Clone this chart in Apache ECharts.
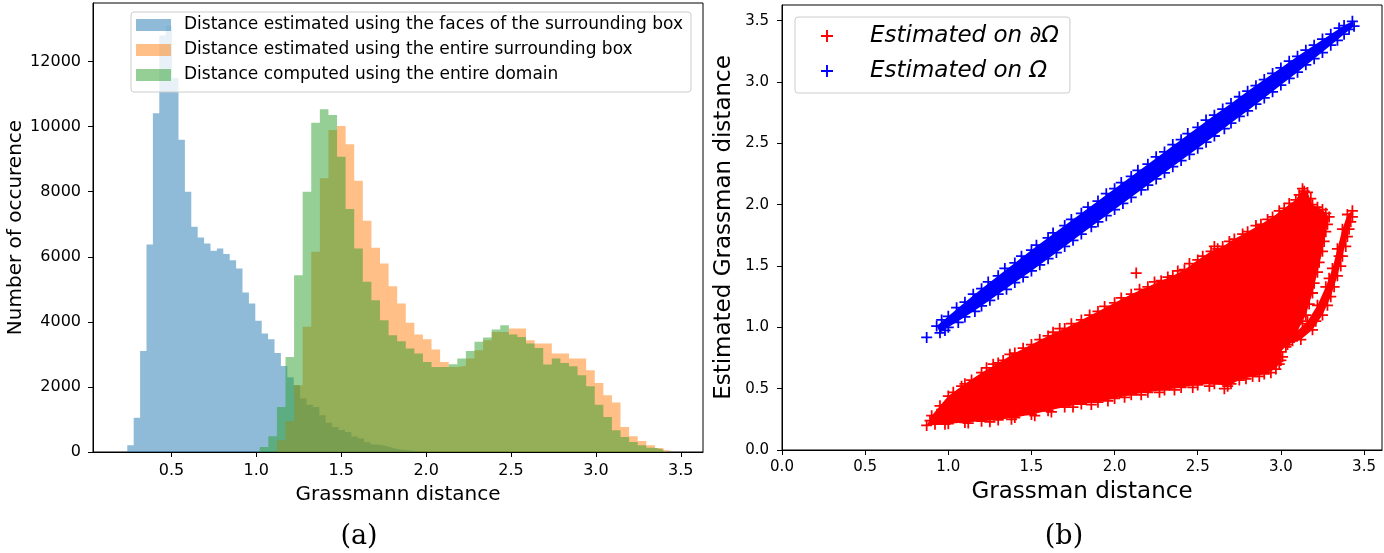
<!DOCTYPE html>
<html><head><meta charset="utf-8">
<script src="https://cdn.jsdelivr.net/npm/echarts@6/dist/echarts.min.js"></script>
<style>html,body{margin:0;padding:0;background:#fff}#c{width:1384px;height:553px}</style>
</head><body><div id="c"></div>
<script>
// ---------- Panel (a): histogram counts ----------
var blueName = 'Distance estimated using the faces of the surrounding box';
var orangeName = 'Distance estimated using the entire surrounding box';
var greenName = 'Distance computed using the entire domain';
var blueStart = 0.240, blueWidth = 0.0377;
var blueCounts = [205,1056,3108,6380,10410,12800,13100,11500,9600,8000,6923,6595,6410,6185,6256,6082,5897,5641,4902,4564,4031,3641,3467,3046,2646,2300,2052,1641,1450,1385,1129,900,769,680,615,480,412,300,230,206,150,103,70,52,30,15];
var ogStart = 1.020, ogWidth = 0.0506;
var orangeCounts = [0,0,360,954,2051,3850,6154,8410,9897,10020,9456,8338,7108,6277,5795,5097,4564,3969,3610,3467,3149,2769,2615,2650,2872,3130,3436,3692,3692,3795,3795,3436,3333,3333,3026,3026,2872,2872,2513,2123,1744,1518,769,482,338,205,123,51];
var greenCounts = [154,483,1385,2923,5436,8000,10123,10533,10359,9077,7466,6256,5231,4667,4051,3590,3405,3180,3026,2769,2615,2615,2700,2872,3108,3385,3518,3764,3897,3610,3538,3333,3200,2687,2872,2738,2636,2359,2020,1456,1077,667,461,308,205,133,72,0];
var xTicksA = [0.5,1.0,1.5,2.0,2.5,3.0,3.5];
var yTicksA = [0,2000,4000,6000,8000,10000,12000];

// ---------- Panel (b): scatter clouds (outline + edge points) ----------
var redName = 'Estimated on \u2202\u03A9';
var blueSName = 'Estimated on \u03A9';
var redOutline = [[0.87,0.20],[0.92,0.21],[1.00,0.215],[1.10,0.225],[1.20,0.235],[1.30,0.245],[1.40,0.265],[1.50,0.29],[1.60,0.32],[1.70,0.35],[1.80,0.375],[1.90,0.39],[2.00,0.42],[2.10,0.45],[2.20,0.47],[2.30,0.49],[2.40,0.51],[2.50,0.53],[2.60,0.54],[2.68,0.52],[2.75,0.57],[2.83,0.60],[2.90,0.62],[2.97,0.66],[3.00,0.73],[3.00,0.80],[3.05,0.88],[3.10,0.97],[3.15,1.10],[3.19,1.28],[3.22,1.45],[3.25,1.62],[3.27,1.78],[3.29,1.90],[3.25,1.96],[3.19,2.00],[3.16,2.10],[3.13,2.13],[3.09,2.04],[3.02,1.97],[2.95,1.90],[2.88,1.84],[2.80,1.78],[2.72,1.72],[2.65,1.66],[2.58,1.62],[2.50,1.55],[2.42,1.47],[2.35,1.42],[2.28,1.38],[2.20,1.33],[2.10,1.27],[2.00,1.20],[1.90,1.13],[1.80,1.06],[1.70,0.99],[1.60,0.93],[1.50,0.86],[1.40,0.79],[1.30,0.71],[1.20,0.63],[1.10,0.54],[1.00,0.44],[0.95,0.36],[0.90,0.28]];
var redHook = [[3.04,0.86],[3.12,0.90],[3.19,0.98],[3.25,1.10],[3.30,1.25],[3.34,1.42],[3.37,1.58],[3.40,1.74],[3.42,1.86],[3.43,1.95],[3.40,1.92],[3.37,1.80],[3.34,1.64],[3.31,1.48],[3.27,1.33],[3.22,1.18],[3.16,1.05],[3.09,0.96]];
var redEdge = [[0.89,0.24],[0.96,0.33],[1.03,0.47],[1.08,0.52],[1.14,0.57],[1.23,0.67],[1.27,0.70],[1.33,0.73],[1.37,0.78],[1.45,0.83],[1.55,0.90],[1.63,0.96],[1.67,0.99],[1.74,1.03],[1.85,1.10],[1.94,1.17],[2.04,1.24],[2.13,1.443],[2.15,1.31],[2.24,1.37],[2.32,1.41],[2.38,1.46],[2.45,1.52],[2.53,1.58],[2.60,1.66],[2.62,1.64],[2.69,1.70],[2.77,1.76],[2.85,1.83],[2.92,1.88],[2.99,1.95],[3.05,2.01],[3.11,2.08],[3.14,2.11],[3.18,2.05],[3.22,1.98],[3.27,1.93],[0.98,0.21],[1.12,0.22],[1.25,0.23],[1.38,0.25],[1.52,0.28],[1.62,0.31],[1.75,0.35],[1.86,0.37],[1.96,0.40],[2.06,0.43],[2.16,0.45],[2.27,0.47],[2.36,0.49],[2.47,0.51],[2.57,0.52],[2.66,0.50],[2.70,0.54],[2.79,0.58],[2.87,0.60],[2.94,0.63],[2.99,0.70],[3.01,0.76],[2.95,0.72],[2.88,0.66],[3.03,0.84],[3.08,0.92],[3.13,1.03],[3.17,1.19],[3.20,1.36],[3.23,1.53],[3.26,1.70],[3.28,1.84],[3.07,0.89],[3.21,1.05],[3.28,1.18],[3.32,1.33],[3.36,1.50],[3.39,1.66],[3.41,1.80],[3.43,1.90],[3.35,1.58],[3.29,1.40]];
var blueUpper = [[0.93,1.01],[1.00,1.09],[1.10,1.205],[1.20,1.315],[1.30,1.42],[1.40,1.525],[1.50,1.63],[1.60,1.73],[1.70,1.83],[1.80,1.93],[1.90,2.03],[2.00,2.13],[2.10,2.23],[2.20,2.33],[2.30,2.43],[2.40,2.53],[2.50,2.63],[2.60,2.73],[2.70,2.825],[2.80,2.925],[2.90,3.02],[3.00,3.115],[3.10,3.21],[3.20,3.30],[3.30,3.39],[3.38,3.46],[3.43,3.495]];
var blueLower = [[3.44,3.455],[3.38,3.39],[3.30,3.30],[3.20,3.19],[3.10,3.08],[3.00,2.975],[2.90,2.87],[2.80,2.765],[2.70,2.665],[2.60,2.56],[2.50,2.46],[2.40,2.36],[2.30,2.26],[2.20,2.16],[2.10,2.06],[2.00,1.96],[1.90,1.86],[1.80,1.76],[1.70,1.66],[1.60,1.56],[1.50,1.46],[1.40,1.365],[1.30,1.27],[1.20,1.175],[1.10,1.085],[1.00,1.00],[0.95,0.955]];
var blueEdge = [[0.87,0.918],[0.96,1.06],[1.05,1.16],[1.15,1.27],[1.24,1.37],[1.34,1.48],[1.44,1.58],[1.53,1.67],[1.63,1.77],[1.74,1.88],[1.84,1.98],[1.95,2.09],[2.04,2.18],[2.14,2.28],[2.25,2.39],[2.35,2.49],[2.44,2.58],[2.55,2.69],[2.65,2.78],[2.75,2.88],[2.85,2.97],[2.95,3.07],[3.05,3.17],[3.15,3.26],[3.25,3.35],[3.35,3.44],[0.98,0.975],[1.06,1.04],[1.16,1.13],[1.25,1.22],[1.35,1.31],[1.45,1.41],[1.55,1.51],[1.65,1.61],[1.75,1.71],[1.86,1.82],[1.95,1.91],[2.05,2.01],[2.16,2.12],[2.25,2.21],[2.35,2.31],[2.45,2.41],[2.55,2.51],[2.66,2.62],[2.75,2.72],[2.85,2.82],[2.95,2.92],[3.05,3.03],[3.15,3.14],[3.25,3.24],[3.34,3.34],[3.41,3.43]];
var ticksB = [0.0,0.5,1.0,1.5,2.0,2.5,3.0,3.5];

// ---------- build ----------
function stepData(start, width, counts){
  var d = [[start, 0]];
  for (var i = 0; i < counts.length; i++) d.push([start + i*width, counts[i]]);
  d.push([start + counts.length*width, counts[counts.length-1]]);
  d.push([start + counts.length*width, 0]);
  return d;
}
function histSeries(name, color, data){
  return {type:'line', name:name, xAxisIndex:0, yAxisIndex:0, step:'end', data:data,
    symbol:'none', showSymbol:false, silent:true,
    itemStyle:{color:color}, lineStyle:{width:0, color:color}, areaStyle:{color:color, opacity:1}};
}
function polySeries(name, pts, color){
  return {type:'custom', name:name, xAxisIndex:1, yAxisIndex:1, data:[[0,0]], silent:true, z:2,
    renderItem:function(params, api){
      var p = pts.map(function(q){ return api.coord(q); });
      return {type:'polygon', shape:{points:p}, style:{fill:color}};
    }};
}
var plus = 'path://M4.2,0H5.8V4.2H10V5.8H5.8V10H4.2V5.8H0V4.2H4.2Z';
function scatSeries(name, data, color){
  return {type:'scatter', name:name, xAxisIndex:1, yAxisIndex:1, data:data, symbol:plus, symbolSize:11,
    silent:true, z:3, itemStyle:{color:color, opacity:1}};
}
var f1 = function(v){ return v.toFixed(1); };
var f0 = function(v){ return String(Math.round(v)); };
var axisCommon = {axisLine:{show:true, onZero:false, lineStyle:{color:'#000', width:1}}, splitLine:{show:false}};

var chart = echarts.init(document.getElementById('c'), null, {renderer:'canvas'});
chart.setOption({
  animation:false,
  textStyle:{fontFamily:'DejaVu Sans', color:'#000'},
  grid:[
    {left:93, top:3, width:610, height:449, show:true, borderColor:'#000', borderWidth:1, backgroundColor:'transparent'},
    {left:782, top:5, width:600, height:445, show:true, borderColor:'#000', borderWidth:1, backgroundColor:'transparent'}
  ],
  xAxis:[
    Object.assign({type:'value', gridIndex:0, min:0.038, max:3.631,
      axisTick:{show:true, length:5, customValues:xTicksA, lineStyle:{color:'#000'}},
      axisLabel:{customValues:xTicksA, formatter:f1, fontSize:16, color:'#000', margin:11},
      name:'Grassmann distance', nameLocation:'middle', nameGap:33, nameTextStyle:{fontSize:20, color:'#000'}}, axisCommon),
    Object.assign({type:'value', gridIndex:1, min:0, max:3.608,
      axisTick:{show:true, length:5, customValues:ticksB, lineStyle:{color:'#000'}},
      axisLabel:{customValues:ticksB, formatter:f1, fontSize:15, color:'#000', margin:10},
      name:'Grassman distance', nameLocation:'middle', nameGap:31, nameTextStyle:{fontSize:23, color:'#000'}}, axisCommon)
  ],
  yAxis:[
    Object.assign({type:'value', gridIndex:0, min:0, max:13800,
      axisTick:{show:true, length:5, customValues:yTicksA, lineStyle:{color:'#000'}},
      axisLabel:{customValues:yTicksA, formatter:f0, fontSize:16, color:'#000', margin:12},
      name:'Number of occurence', nameLocation:'middle', nameGap:67, nameTextStyle:{fontSize:20, color:'#000'}}, axisCommon),
    Object.assign({type:'value', gridIndex:1, min:0, max:3.628,
      axisTick:{show:true, length:5, customValues:ticksB, lineStyle:{color:'#000'}},
      axisLabel:{customValues:ticksB, formatter:f1, fontSize:15, color:'#000', margin:13},
      name:'Estimated Grassman distance', nameLocation:'middle', nameGap:46, nameTextStyle:{fontSize:23, color:'#000'}}, axisCommon)
  ],
  legend:[
    {left:131, top:12, orient:'vertical', icon:'rect', itemWidth:35, itemHeight:12, itemGap:5,
      padding:[3,8,7,5], backgroundColor:'rgba(255,255,255,0.8)', borderColor:'#cccccc', borderWidth:1, borderRadius:3,
      textStyle:{fontSize:17, color:'#000', lineHeight:20, padding:[0,0,0,8]},
      selectedMode:false, data:[blueName, orangeName, greenName]},
    {left:795, top:17, orient:'vertical', itemWidth:12, itemHeight:12, itemGap:7,
      padding:[5,11,8,26], backgroundColor:'rgba(255,255,255,0.8)', borderColor:'#cccccc', borderWidth:1, borderRadius:3,
      textStyle:{fontSize:23, fontStyle:'italic', color:'#000', lineHeight:28, padding:[0,0,0,32]},
      selectedMode:false, data:[{name:redName, icon:plus}, {name:blueSName, icon:plus}]}
  ],
  graphic:[
    {type:'text', style:{text:'(a)', x:359, y:537, align:'center', verticalAlign:'middle', fontFamily:'DejaVu Serif', fontSize:27, fill:'#000'}},
    {type:'text', style:{text:'(b)', x:1064, y:537, align:'center', verticalAlign:'middle', fontFamily:'DejaVu Serif', fontSize:27, fill:'#000'}}
  ],
  series:[
    histSeries(blueName, 'rgba(31,119,180,0.5)', stepData(blueStart, blueWidth, blueCounts)),
    histSeries(orangeName, 'rgba(255,127,14,0.5)', stepData(ogStart, ogWidth, orangeCounts)),
    histSeries(greenName, 'rgba(44,160,44,0.5)', stepData(ogStart, ogWidth, greenCounts)),
    polySeries('redCore', redOutline, '#ff0000'),
    polySeries('redHookCore', redHook, '#ff0000'),
    scatSeries(redName, redOutline.concat(redHook, redEdge), '#ff0000'),
    polySeries('blueCore', blueUpper.concat(blueLower), '#0000ff'),
    scatSeries(blueSName, blueUpper.concat(blueLower, blueEdge), '#0000ff')
  ]
});
</script></body></html>
